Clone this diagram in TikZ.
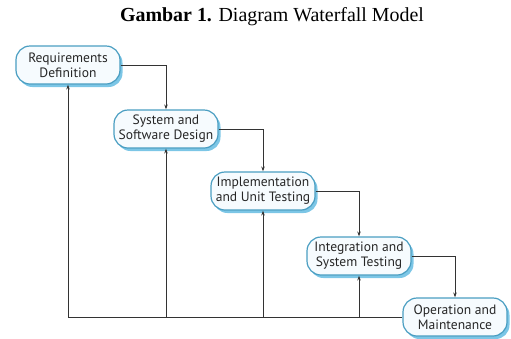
\documentclass[tikz,border=0pt]{standalone}
\usepackage{fontspec}
\setmainfont{Liberation Serif}
\newfontfamily\boxfont{PT Sans}
\usetikzlibrary{arrows.meta,shadows}
\definecolor{boxborder}{HTML}{4A9EC2}
\definecolor{boxfill}{HTML}{F6FBFE}
\definecolor{boxshadow}{HTML}{7CC6E6}
\definecolor{linecol}{HTML}{333333}
\tikzset{
  phase/.style={draw=boxborder, line width=1.2bp, fill=boxfill, rounded corners=14bp,
    minimum width=104bp, minimum height=38bp, align=center, inner sep=0pt,
    font=\boxfont\fontsize{13.6}{15}\selectfont, text=black!85,
    drop shadow={shadow xshift=2.5bp, shadow yshift=-3bp, fill=boxshadow, opacity=1}},
  flow/.style={draw=linecol, line width=0.9bp, -{Stealth[length=5bp,width=3.5bp]}},
  ttl/.style={font=\fontsize{20}{22}\selectfont, inner sep=0pt}
}
\begin{document}
\begin{tikzpicture}[x=1bp,y=-1bp]
\useasboundingbox (0,0) rectangle (511,338);
\node[ttl] (title) at (272,17) {\textbf{Gambar 1.} Diagram Waterfall Model};
\node[phase] (n1) at (68,65) {Requirements\\Definition};
\node[phase] (n2) at (166,129) {System and\\Software Design};
\node[phase] (n3) at (263,191) {Implementation\\and Unit Testing};
\node[phase] (n4) at (359,256) {Integration and\\System Testing};
\node[phase] (n5) at (455,317) {Operation and\\Maintenance};
\draw[flow] (n1.east) -| (n2.north);
\draw[flow] (n2.east) -| (n3.north);
\draw[flow] (n3.east) -| (n4.north);
\draw[flow] (n4.east) -| (n5.north);
\draw[flow] (n5.west) -| (n1.south);
\draw[flow] (n5.west -| n2.south) -- (n2.south);
\draw[flow] (n5.west -| n3.south) -- (n3.south);
\draw[flow] (n5.west -| n4.south) -- (n4.south);
\end{tikzpicture}
\end{document}
